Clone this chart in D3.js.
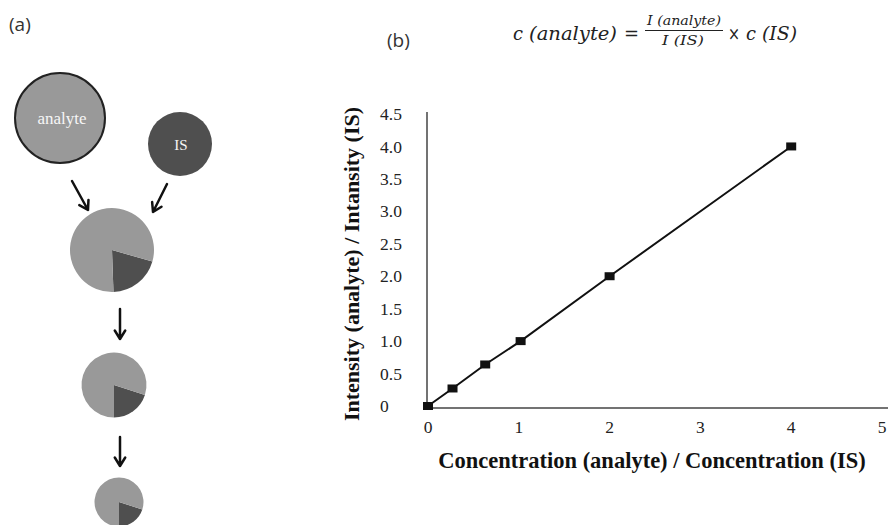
<!DOCTYPE html>
<html>
<head>
<meta charset="utf-8">
<script src="https://cdn.jsdelivr.net/npm/d3@7"></script>
<style>
  body { margin: 0; background: #fff; }
  svg { display: block; }
</style>
</head>
<body>
<script>
// data
var xTicks = [0, 1, 2, 3, 4, 5];
var yTicks = [0, 0.5, 1.0, 1.5, 2.0, 2.5, 3.0, 3.5, 4.0, 4.5];
var concRatio = [0, 0.27, 0.63, 1.02, 2.0, 4.0];
var intRatio = [0, 0.27, 0.64, 1.0, 2.0, 4.0];
var mixShares = [0.2, 0.8]; // IS, analyte

var width = 888;
var height = 525;
var svg = d3.select("body").append("svg")
    .attr("width", width)
    .attr("height", height);

// ---- panel (b): calibration line ----
var x = d3.scaleLinear().domain([0, 5]).range([428, 882]);
var y = d3.scaleLinear().domain([0, 4.5]).range([406, 114]);

var serif = "'Liberation Serif', 'Times New Roman', serif";

// axes lines
svg.append("line")
    .attr("x1", 427).attr("x2", 427)
    .attr("y1", 112).attr("y2", y(0) + 2)
    .attr("stroke", "#444").attr("stroke-width", 1.5);
svg.append("line")
    .attr("x1", 427).attr("x2", 888)
    .attr("y1", y(0) + 2).attr("y2", y(0) + 2)
    .attr("stroke", "#444").attr("stroke-width", 1.5);

// tick labels
svg.append("g").selectAll("text")
    .data(yTicks)
    .join("text")
    .attr("x", 380)
    .attr("y", d => y(d))
    .attr("dy", "0.35em")
    .style("font-family", serif)
    .style("font-size", "17.5px")
    .attr("fill", "#222")
    .text(d => d === 0 ? "0" : d3.format(".1f")(d));

svg.append("g").selectAll("text")
    .data(xTicks)
    .join("text")
    .attr("x", d => x(d))
    .attr("y", 433)
    .attr("text-anchor", "middle")
    .style("font-family", serif)
    .style("font-size", "17.5px")
    .attr("fill", "#222")
    .text(d => d);

// axis titles
svg.append("text")
    .attr("x", 652).attr("y", 468)
    .attr("text-anchor", "middle")
    .style("font-family", serif)
    .style("font-size", "22.5px")
    .style("font-weight", "bold")
    .attr("fill", "#111")
    .text("Concentration (analyte) / Concentration (IS)");

svg.append("text")
    .attr("transform", "translate(359,264) rotate(-90)")
    .attr("text-anchor", "middle")
    .style("font-family", serif)
    .style("font-size", "22px")
    .style("font-weight", "bold")
    .attr("fill", "#111")
    .text("Intensity (analyte) / Intansity (IS)");

// line + markers
var pts = concRatio.map((c, i) => [c, intRatio[i]]);
svg.append("path")
    .datum(pts)
    .attr("fill", "none")
    .attr("stroke", "#111")
    .attr("stroke-width", 2)
    .attr("d", d3.line().x(d => x(d[0])).y(d => y(d[1])));

svg.append("g").selectAll("rect")
    .data(pts)
    .join("rect")
    .attr("x", d => x(d[0]) - 5)
    .attr("y", d => y(d[1]) - 4)
    .attr("width", 10)
    .attr("height", 8)
    .attr("fill", "#111");

// panel labels and formula
var sans = "'Open Sans', sans-serif";
svg.append("text")
    .attr("x", 9).attr("y", 31)
    .style("font-family", sans)
    .style("font-size", "19px")
    .attr("fill", "#333")
    .text("(a)");
svg.append("text")
    .attr("x", 387).attr("y", 47)
    .style("font-family", sans)
    .style("font-size", "19px")
    .attr("fill", "#333")
    .text("(b)");

var mathFont = "'DejaVu Serif', serif";
function mathText(str, x0, y0, size, len, italic, anchor) {
    var t = svg.append("text")
        .attr("x", x0).attr("y", y0)
        .attr("text-anchor", anchor || "start")
        .style("font-family", mathFont)
        .style("font-style", italic ? "italic" : "normal")
        .style("font-size", size + "px")
        .attr("fill", "#222")
        .text(str);
    if (len) t.attr("textLength", len).attr("lengthAdjust", "spacingAndGlyphs");
    return t;
}
mathText("c", 513, 40, 19, 10, true);
mathText("(analyte)", 529, 40, 19, 88, true);
mathText("=", 624, 40, 19, 15, false);
mathText("I (analyte)", 684, 25, 13.5, 74, true, "middle");
svg.append("line")
    .attr("x1", 645).attr("x2", 723)
    .attr("y1", 30.5).attr("y2", 30.5)
    .attr("stroke", "#222").attr("stroke-width", 1);
mathText("I (IS)", 683, 45, 13.5, 42, true, "middle");
mathText("×", 728, 40, 19, 12, false);
mathText("c", 746, 40, 19, 10, true);
mathText("(IS)", 762, 40, 19, 35, true);

// ---- panel (a): diagram ----
var light = "#999999";
var dark = "#4f4f4f";

svg.append("circle")
    .attr("cx", 60).attr("cy", 118).attr("r", 45)
    .attr("fill", light).attr("stroke", "#222").attr("stroke-width", 2);
svg.append("text")
    .attr("x", 62).attr("y", 118).attr("dy", "0.35em")
    .attr("text-anchor", "middle")
    .style("font-family", serif)
    .style("font-size", "17px")
    .attr("fill", "#f6f6f6")
    .text("analyte");

svg.append("circle")
    .attr("cx", 180).attr("cy", 144).attr("r", 32)
    .attr("fill", dark);
svg.append("text")
    .attr("x", 181).attr("y", 145).attr("dy", "0.35em")
    .attr("text-anchor", "middle")
    .style("font-family", serif)
    .style("font-size", "15px")
    .attr("fill", "#f6f6f6")
    .text("IS");

// pies of the mixture
var pies = [
    { cx: 112, cy: 250, r: 42, start: 106 },
    { cx: 114, cy: 385, r: 32.5, start: 108 },
    { cx: 119, cy: 502, r: 24.5, start: 108 }
];
pies.forEach(function (p) {
    var a0 = p.start * Math.PI / 180;
    var arcs = d3.pie().sort(null).startAngle(a0).endAngle(a0 + 2 * Math.PI)(mixShares);
    svg.append("g")
        .attr("transform", "translate(" + p.cx + "," + p.cy + ")")
        .selectAll("path")
        .data(arcs)
        .join("path")
        .attr("d", d3.arc().innerRadius(0).outerRadius(p.r))
        .attr("fill", (d, i) => i === 0 ? dark : light);
});

// arrows
function arrow(x1, y1, x2, y2) {
    var ang = Math.atan2(y2 - y1, x2 - x1);
    var h = 10, spread = 0.55;
    var p1 = [x2 - h * Math.cos(ang - spread), y2 - h * Math.sin(ang - spread)];
    var p2 = [x2 - h * Math.cos(ang + spread), y2 - h * Math.sin(ang + spread)];
    svg.append("path")
        .attr("d", "M" + x1 + "," + y1 + "L" + x2 + "," + y2 +
            "M" + p1[0] + "," + p1[1] + "L" + x2 + "," + y2 + "L" + p2[0] + "," + p2[1])
        .attr("fill", "none")
        .attr("stroke", "#111")
        .attr("stroke-width", 2.5)
        .attr("stroke-linecap", "round")
        .attr("stroke-linejoin", "round");
}
arrow(72, 181, 88, 210);
arrow(167, 184, 153, 212);
arrow(120, 309, 120, 339);
arrow(120, 437, 120, 466);
</script>
</body>
</html>
